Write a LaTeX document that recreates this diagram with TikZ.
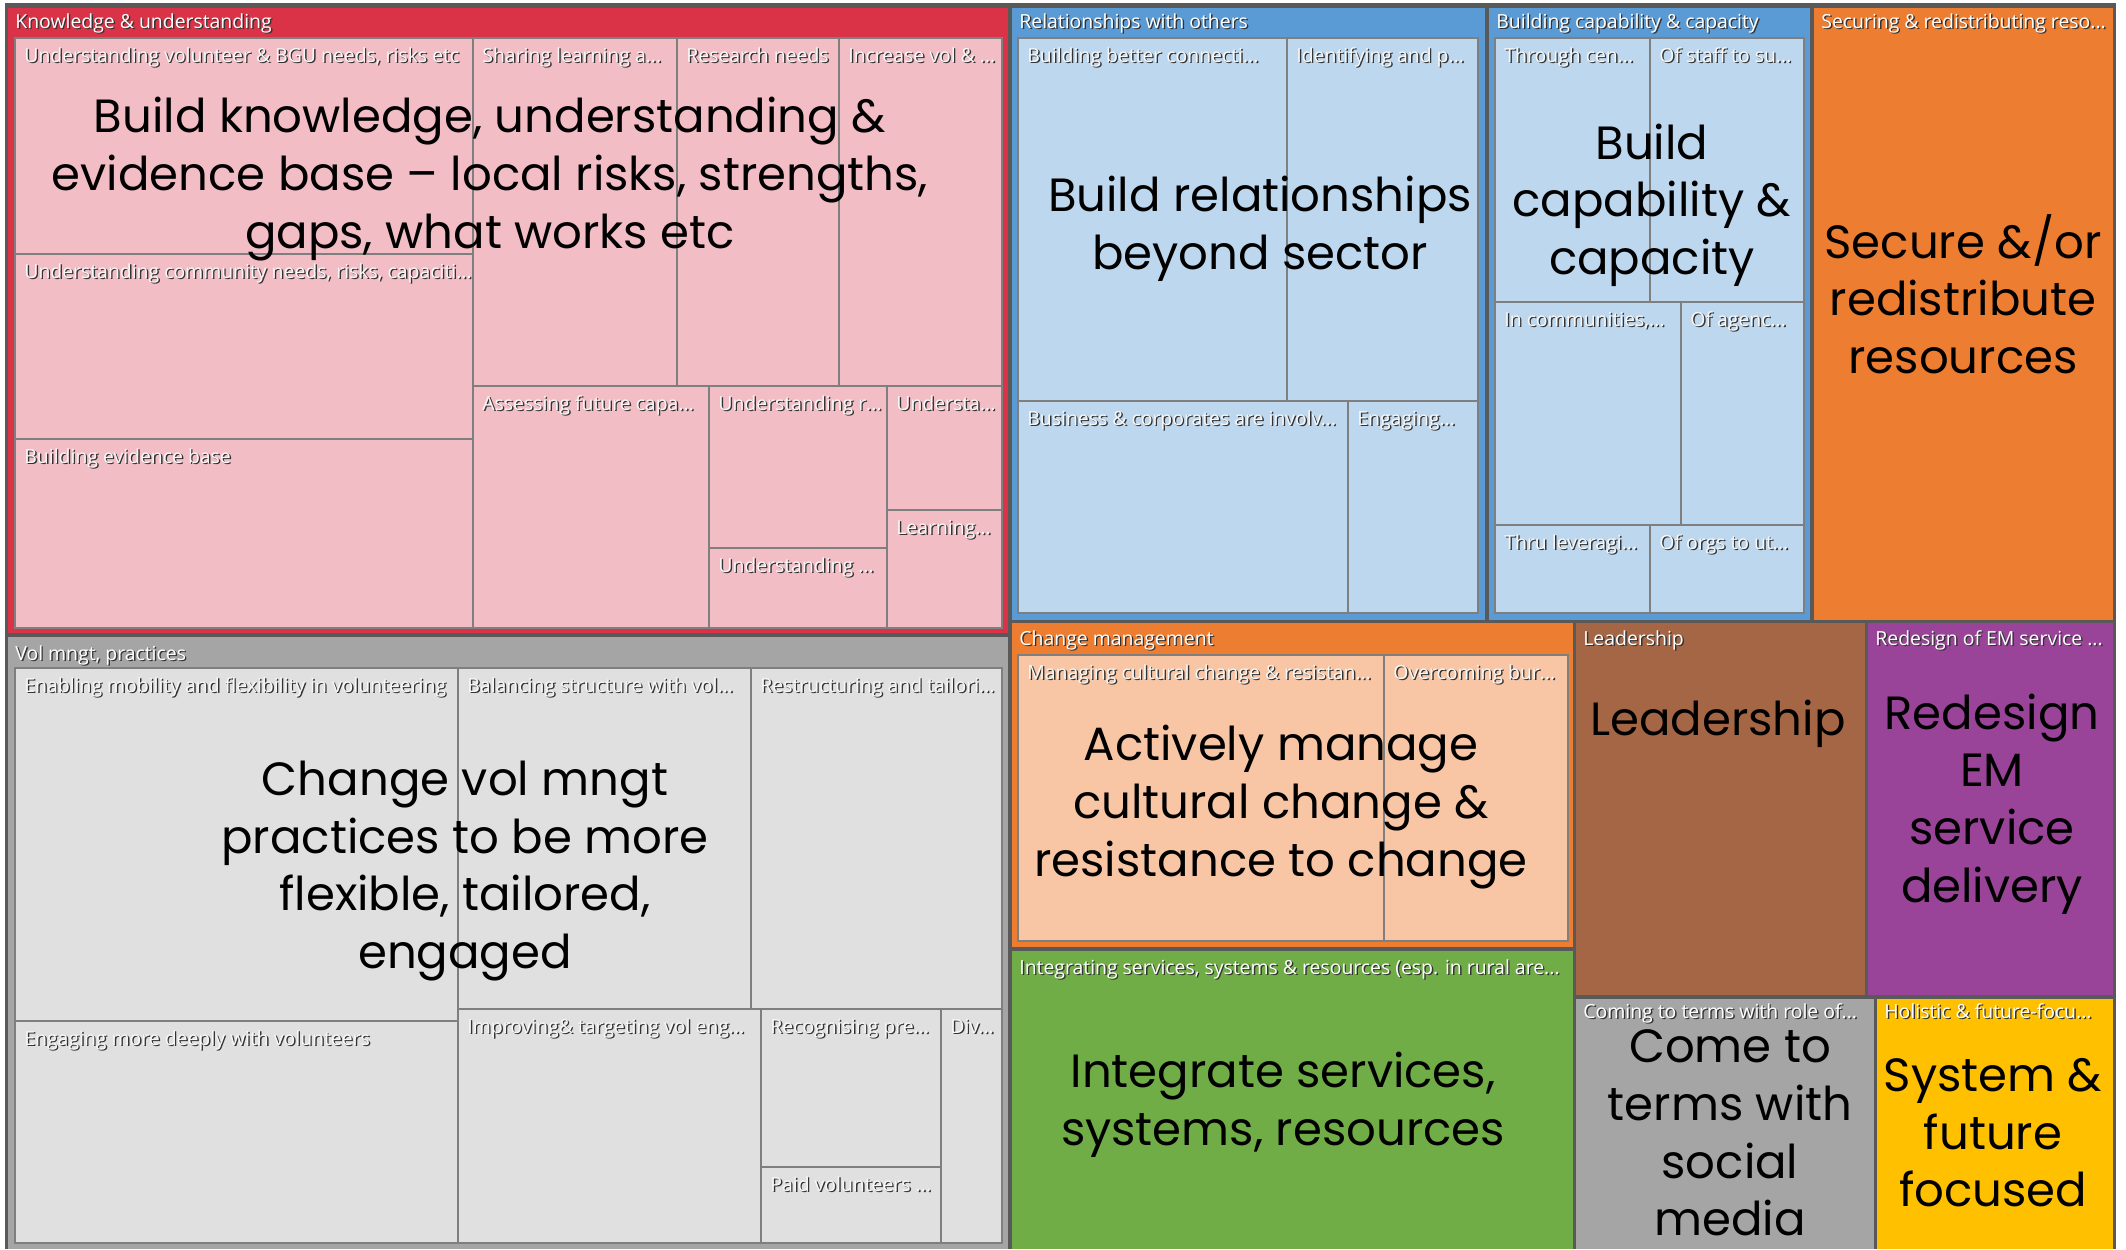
\documentclass[tikz,border=0pt]{standalone}
\usepackage{fontspec}
\usepackage{xcolor}
\newfontfamily\uifont{Open Sans}
\newfontfamily\gothic[Ligatures=TeX]{Poppins}
\definecolor{tmFrame}{HTML}{595959}
\definecolor{tmLine}{HTML}{7F7F7F}
\definecolor{tmRed}{HTML}{DA3347}
\definecolor{tmPink}{HTML}{F3BDC6}
\definecolor{tmBlue}{HTML}{5B9BD5}
\definecolor{tmSky}{HTML}{BDD7EE}
\definecolor{tmOrange}{HTML}{ED7D31}
\definecolor{tmPeach}{HTML}{F8C6A4}
\definecolor{tmGray}{HTML}{A5A5A5}
\definecolor{tmLight}{HTML}{E0E0E0}
\definecolor{tmGreen}{HTML}{70AD47}
\definecolor{tmBrown}{HTML}{A46645}
\definecolor{tmPurple}{HTML}{9A4499}
\definecolor{tmYellow}{HTML}{FFC000}
\newcommand\withshadow[1]{\rlap{\kern0.7pt\raisebox{-0.7pt}{\color{black!80}#1}}#1}

\begin{document}
\begin{tikzpicture}[
x=0.5pt, y=-0.5pt,
cellbox/.style={draw=tmLine, line width=1pt},
hdr/.style={anchor=base west, inner sep=0pt, text=white, font=\uifont\fontsize{9.7}{11}\selectfont},
cname/.style={hdr, text=white!97!black},
big/.style={align=center, inner sep=0pt, text=black, font=\gothic\fontsize{23.3}{28.8}\selectfont}
]
\useasboundingbox (0,0) rectangle (2126,1249);
\fill[tmFrame] (5,3) rectangle (2116,1249);

% Knowledge & understanding
\fill[tmRed] (8,8) rectangle (1008,633);
\node[hdr] (hKnow) at (15,28) {\withshadow{Knowledge \& understanding}};
\draw[cellbox, fill=tmPink] (15,38) rectangle (473,254);
\draw[cellbox, fill=tmPink] (15,254) rectangle (473,439);
\draw[cellbox, fill=tmPink] (15,439) rectangle (473,628);
\draw[cellbox, fill=tmPink] (473,38) rectangle (677,386);
\draw[cellbox, fill=tmPink] (677,38) rectangle (839,386);
\draw[cellbox, fill=tmPink] (839,38) rectangle (1002,386);
\draw[cellbox, fill=tmPink] (473,386) rectangle (709,628);
\draw[cellbox, fill=tmPink] (709,386) rectangle (887,548);
\draw[cellbox, fill=tmPink] (709,548) rectangle (887,628);
\draw[cellbox, fill=tmPink] (887,386) rectangle (1002,510);
\draw[cellbox, fill=tmPink] (887,510) rectangle (1002,628);
\node[cname] (kVolBGU) at (24,62) {\withshadow{Understanding volunteer \& BGU needs, risks etc}};
\node[cname] (kCommunity) at (24,278) {\withshadow{Understanding community needs, risks, capaciti...}};
\node[cname] (kEvidence) at (24,463) {\withshadow{Building evidence base}};
\node[cname] (kSharing) at (482,62) {\withshadow{Sharing learning a...}};
\node[cname] (kResearch) at (686,62) {\withshadow{Research needs}};
\node[cname] (kIncrease) at (848,62) {\withshadow{Increase vol \& ...}};
\node[cname] (kAssessing) at (482,410) {\withshadow{Assessing future capa...}};
\node[cname] (kUndR) at (718,410) {\withshadow{Understanding r...}};
\node[cname] (kUndDots) at (718,572) {\withshadow{Understanding ...}};
\node[cname] (kUndersta) at (896,410) {\withshadow{Understa...}};
\node[cname] (kLearning) at (896,534) {\withshadow{Learning...}};
\node[big] (bKnow) at (490,179) {Build knowledge, understanding \&\\evidence base \textendash{} local risks, strengths,\\gaps, what works etc};

% Relationships with others
\fill[tmBlue] (1012,8) rectangle (1485,620);
\node[hdr] (hRel) at (1019,28) {\withshadow{Relationships with others}};
\draw[cellbox, fill=tmSky] (1018,38) rectangle (1287,401);
\draw[cellbox, fill=tmSky] (1287,38) rectangle (1478,401);
\draw[cellbox, fill=tmSky] (1018,401) rectangle (1348,613);
\draw[cellbox, fill=tmSky] (1348,401) rectangle (1478,613);
\node[cname] (rBetter) at (1027,62) {\withshadow{Building better connecti...}};
\node[cname] (rIdent) at (1296,62) {\withshadow{Identifying and p...}};
\node[cname] (rBusiness) at (1027,425) {\withshadow{Business \& corporates are involv...}};
\node[cname] (rEngaging) at (1357,425) {\withshadow{Engaging...}};
\node[big] (bRel) at (1260,229) {Build relationships\\beyond sector};

% Building capability & capacity
\fill[tmBlue] (1489,8) rectangle (1810,620);
\node[hdr] (hCap) at (1496,28) {\withshadow{Building capability \& capacity}};
\draw[cellbox, fill=tmSky] (1495,38) rectangle (1650,302);
\draw[cellbox, fill=tmSky] (1650,38) rectangle (1804,302);
\draw[cellbox, fill=tmSky] (1495,302) rectangle (1681,525);
\draw[cellbox, fill=tmSky] (1681,302) rectangle (1804,525);
\draw[cellbox, fill=tmSky] (1495,525) rectangle (1650,613);
\draw[cellbox, fill=tmSky] (1650,525) rectangle (1804,613);
\node[cname] (cThrough) at (1504,62) {\withshadow{Through cen...}};
\node[cname] (cStaff) at (1659,62) {\withshadow{Of staff to su...}};
\node[cname] (cCommun) at (1504,326) {\withshadow{In communities,...}};
\node[cname] (cAgenc) at (1690,326) {\withshadow{Of agenc...}};
\node[cname] (cThru) at (1504,549) {\withshadow{Thru leveragi...}};
\node[cname] (cOrgs) at (1659,549) {\withshadow{Of orgs to ut...}};
\node[big] (bCap) at (1652,205) {Build\\capability \&\\capacity};

% Securing & redistributing resources
\fill[tmOrange] (1814,8) rectangle (2113,620);
\node[hdr] (hSec) at (1821,28) {\withshadow{Securing \& redistributing reso...}};
\node[big] (bSec) at (1963,294) {Secure \&/or\\redistribute\\resources};

% Vol mngt, practices
\fill[tmGray] (8,637) rectangle (1008,1249);
\node[hdr] (hVol) at (15,660) {\withshadow{Vol mngt, practices}};
\draw[cellbox, fill=tmLight] (15,668) rectangle (458,1021);
\draw[cellbox, fill=tmLight] (15,1021) rectangle (458,1243);
\draw[cellbox, fill=tmLight] (458,668) rectangle (751,1009);
\draw[cellbox, fill=tmLight] (751,668) rectangle (1002,1009);
\draw[cellbox, fill=tmLight] (458,1009) rectangle (761,1243);
\draw[cellbox, fill=tmLight] (761,1009) rectangle (941,1167);
\draw[cellbox, fill=tmLight] (761,1167) rectangle (941,1243);
\draw[cellbox, fill=tmLight] (941,1009) rectangle (1002,1243);
\node[cname] (vEnabling) at (24,692) {\withshadow{Enabling mobility and flexibility in volunteering}};
\node[cname] (vDeeply) at (24,1045) {\withshadow{Engaging more deeply with volunteers}};
\node[cname] (vBalancing) at (467,692) {\withshadow{Balancing structure with vol...}};
\node[cname] (vRestruct) at (760,692) {\withshadow{Restructuring and tailori...}};
\node[cname] (vImproving) at (467,1033) {\withshadow{Improving\& targeting vol eng...}};
\node[cname] (vRecog) at (770,1033) {\withshadow{Recognising pre...}};
\node[cname] (vPaid) at (770,1191) {\withshadow{Paid volunteers ...}};
\node[cname] (vDiv) at (950,1033) {\withshadow{Div...}};
\node[big] (bVol) at (465,871) {Change vol mngt\\practices to be more\\flexible, tailored,\\engaged};

% Change management
\fill[tmOrange] (1012,623) rectangle (1573,947);
\node[hdr] (hChange) at (1019,645) {\withshadow{Change management}};
\draw[cellbox, fill=tmPeach] (1018,655) rectangle (1384,941);
\draw[cellbox, fill=tmPeach] (1384,655) rectangle (1568,941);
\node[cname] (mCultural) at (1027,679) {\withshadow{Managing cultural change \& resistan...}};
\node[cname] (mOvercoming) at (1393,679) {\withshadow{Overcoming bur...}};
\node[big] (bChange) at (1281,807) {Actively manage\\cultural change \&\\resistance to change};

% Integrating services, systems & resources
\fill[tmGreen] (1012,951) rectangle (1573,1249);
\node[hdr] (hInteg) at (1019,974) {\withshadow{Integrating services, systems \& resources (esp. in rural are...}};
\node[big] (bInteg) at (1283,1105) {Integrate services,\\systems, resources};

% Leadership
\fill[tmBrown] (1576,623) rectangle (1865,995);
\node[hdr] (hLead) at (1583,645) {\withshadow{Leadership}};
\node[big] (bLead) at (1718,724) {Leadership};

% Redesign of EM service delivery
\fill[tmPurple] (1868,623) rectangle (2113,995);
\node[hdr] (hRedesign) at (1875,645) {\withshadow{Redesign of EM service ...}};
\node[big] (bRedesign) at (1992,804) {Redesign\\EM\\service\\delivery};

% Coming to terms with role of social media
\fill[tmGray] (1576,999) rectangle (1874,1249);
\node[hdr] (hComing) at (1583,1018) {\withshadow{Coming to terms with role of...}};
\node[big] (bComing) at (1730,1133) {Come to\\terms with\\social\\media};

% Holistic & future-focused
\fill[tmYellow] (1877,999) rectangle (2113,1249);
\node[hdr] (hHolistic) at (1884,1018) {\withshadow{Holistic \& future-focu...}};
\node[big] (bHolistic) at (1993,1133) {System \&\\future\\focused};
\end{tikzpicture}
\end{document}
